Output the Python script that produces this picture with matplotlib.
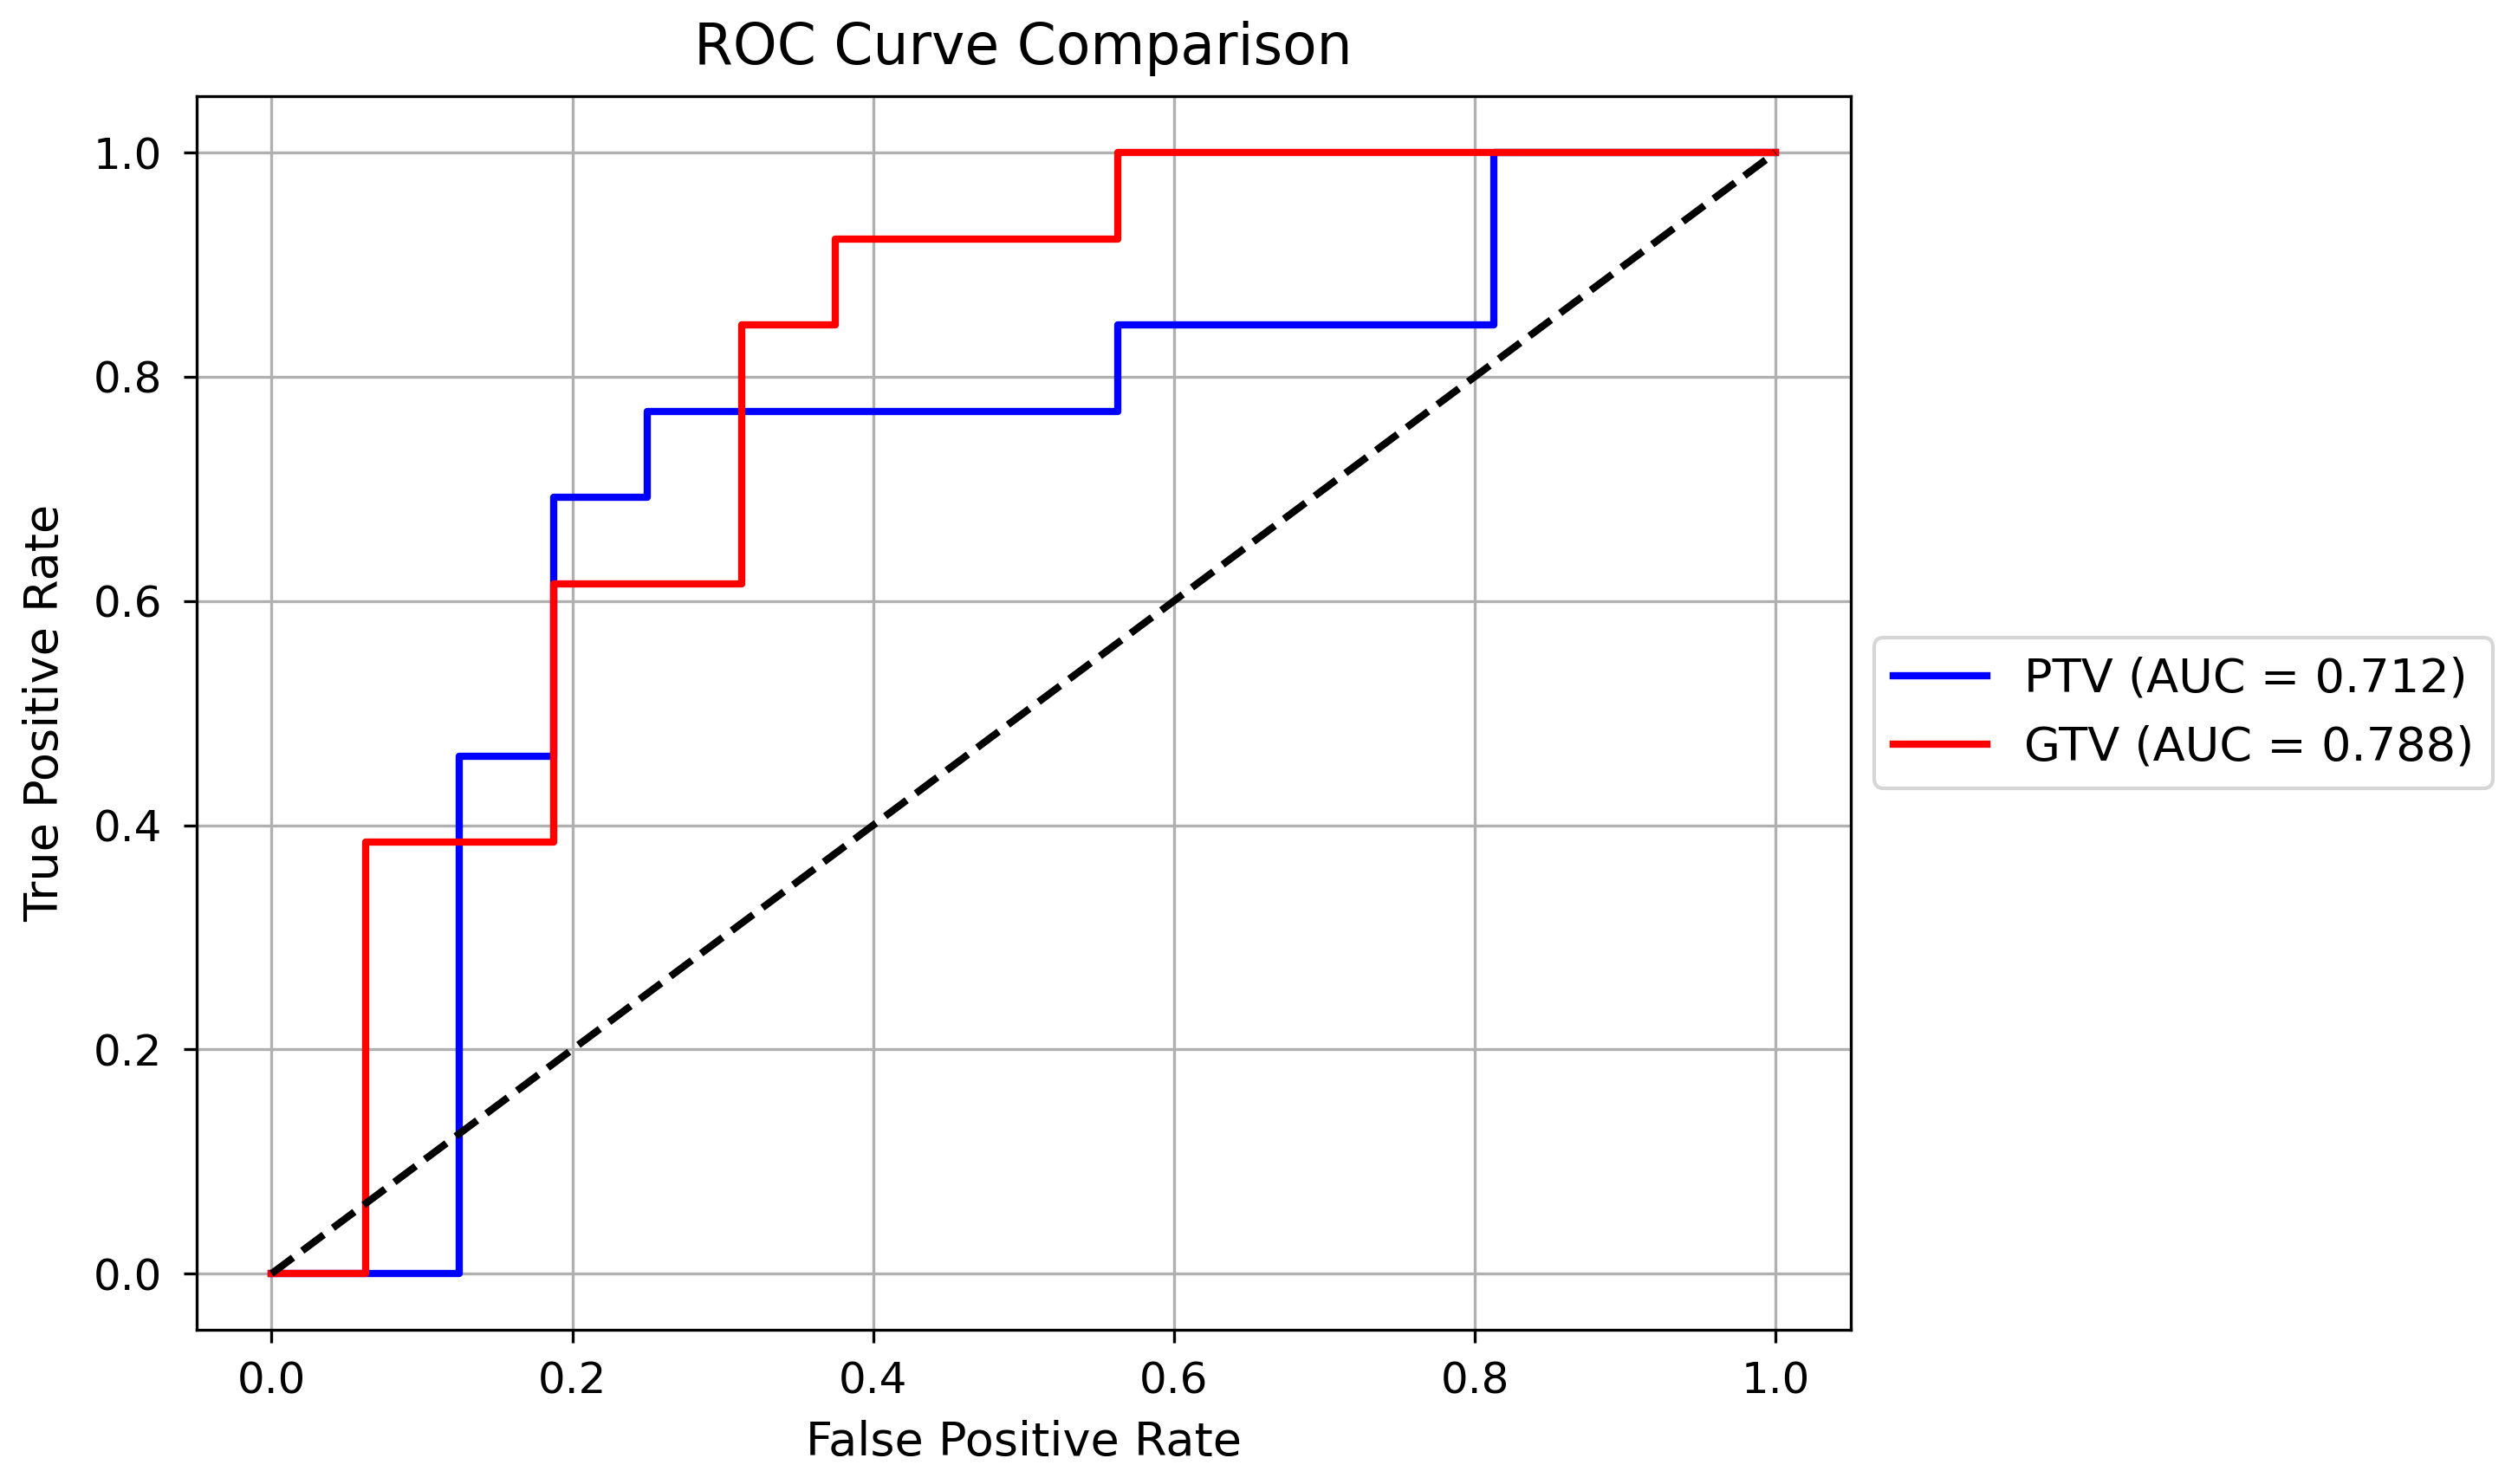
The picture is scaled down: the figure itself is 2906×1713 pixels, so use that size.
import matplotlib
matplotlib.use("Agg")
import matplotlib.pyplot as plt

# Data (ROC step points)
ptv_fpr = [0.0, 0.125, 0.125, 0.1875, 0.1875, 0.25, 0.25, 0.5625, 0.5625, 0.8125, 0.8125, 1.0]
ptv_tpr = [0.0, 0.0, 6/13, 6/13, 9/13, 9/13, 10/13, 10/13, 11/13, 11/13, 1.0, 1.0]
gtv_fpr = [0.0, 0.0625, 0.0625, 0.1875, 0.1875, 0.3125, 0.3125, 0.375, 0.375, 0.5625, 0.5625, 1.0]
gtv_tpr = [0.0, 0.0, 5/13, 5/13, 8/13, 8/13, 11/13, 11/13, 12/13, 12/13, 1.0, 1.0]
ptv_auc = 0.712
gtv_auc = 0.788
diag = [0.0, 1.0]

plt.rcParams['font.family'] = ['DejaVu Sans']
fig = plt.figure(figsize=(2906/300, 1713/300), dpi=300)
ax = fig.add_axes([0.078, 0.104, 0.657, 0.831])

ax.plot(ptv_fpr, ptv_tpr, color='blue', lw=2, label=f'PTV (AUC = {ptv_auc:.3f})')
ax.plot(gtv_fpr, gtv_tpr, color='red', lw=2, label=f'GTV (AUC = {gtv_auc:.3f})')
ax.plot(diag, diag, color='black', lw=2, linestyle='--')

ax.set_xlabel('False Positive Rate', fontsize=13, labelpad=5)
ax.set_ylabel('True Positive Rate', fontsize=13, labelpad=7)
ax.set_title('ROC Curve Comparison', fontsize=15.5, pad=9)
ax.tick_params(labelsize=12)
ax.tick_params(axis='x', pad=5)
ax.tick_params(axis='y', pad=6)
ax.grid(True)
ax.legend(loc='center left', bbox_to_anchor=(1.0, 0.5), fontsize=13)

fig.savefig('out.png', dpi=300)
